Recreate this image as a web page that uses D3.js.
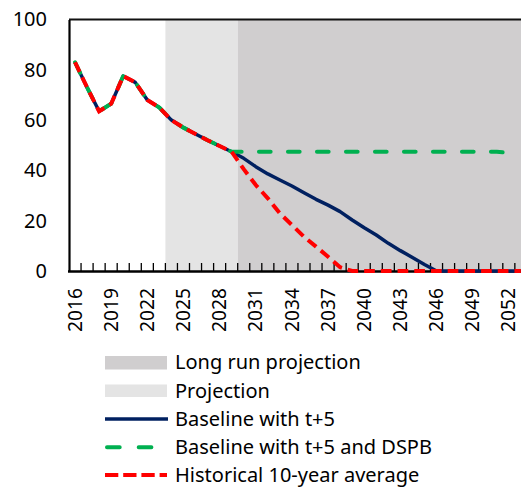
<!DOCTYPE html>
<html><head><meta charset="utf-8">
<script src="https://cdn.jsdelivr.net/npm/d3@7"></script>
<style>
html,body{margin:0;padding:0;background:#fff;}
svg{display:block;}
text{font-family:"Noto Sans","Open Sans",sans-serif;fill:#000;}
</style></head>
<body><svg id="c" width="521" height="487"></svg>
<script>
const years = d3.range(2016, 2054);
const baseline = [83, 73, 63.5, 66.5, 77.5, 75, 68, 65, 60, 57, 54.5, 52, 49.7, 47.4,
  44.8, 41.5, 38.6, 36.2, 33.8, 31.1, 28.5, 26.2, 23.6, 20.3, 17.2, 14.3, 11, 8.1, 5.4, 2.6,
  0, 0, 0, 0, 0, 0, 0, 0];
const dspb = [83, 73, 63.5, 66.5, 77.5, 75, 68, 65, 60, 57, 54.5, 52, 49.7, 47.4,
  47.4, 47.4, 47.4, 47.4, 47.4, 47.4, 47.4, 47.4, 47.4, 47.4, 47.4, 47.4, 47.4, 47.4, 47.4, 47.4,
  47.4, 47.4, 47.4, 47.4, 47.4, 47.4, 47.0, null];
const hist10 = [83, 73, 63.5, 66.5, 77.5, 75, 68, 65, 60, 57, 54.5, 52, 49.7, 47.4,
  40.5, 34.2, 28.9, 22.9, 18.3, 13.6, 9.7, 5.7, 1.5, 0, 0, 0, 0, 0, 0, 0,
  0, 0, 0, 0, 0, 0, 0, 0];
const projectionYears = [2024, 2029];
const longRunYears = [2030, 2053];
const yTicks = [0, 20, 40, 60, 80, 100];
const xLabelYears = d3.range(2016, 2053, 3);
const legendLabels = ["Long run projection", "Projection", "Baseline with t+5",
  "Baseline with t+5 and DSPB", "Historical 10-year average"];

const svg = d3.select("#c");
const bw = 12.05;
const x = d3.scaleBand().domain(years).range([69, 69 + years.length * bw]).padding(0);
const y = d3.scaleLinear().domain([0, 100]).range([271, 19.5]);
const cx = d => x(d) + x.bandwidth() / 2;

// shading
svg.append("rect").attr("x", x(projectionYears[0])).attr("y", y(100))
  .attr("width", x(projectionYears[1]) + bw - x(projectionYears[0]))
  .attr("height", y(0) - y(100)).attr("fill", "#e4e4e4");
svg.append("rect").attr("x", x(longRunYears[0])).attr("y", y(100))
  .attr("width", x(longRunYears[1]) + bw - x(longRunYears[0]))
  .attr("height", y(0) - y(100)).attr("fill", "#d0cecf");

// top border
svg.append("line").attr("x1", 69).attr("x2", 521).attr("y1", y(100)).attr("y2", y(100))
  .attr("stroke", "#111").attr("stroke-width", 2);

// y axis
const ya = svg.append("g").attr("transform", "translate(69,0)")
  .call(d3.axisLeft(y).tickValues(yTicks).tickSize(0).tickPadding(22));
ya.select(".domain").attr("stroke", "#000").attr("stroke-width", 2.2);
ya.selectAll("text").attr("font-size", "20px").attr("font-family", "Noto Sans").attr("fill", "#000");

// x axis line + ticks at band boundaries
const xa = svg.append("g");
xa.selectAll("line.t").data(years.slice(1)).join("line").attr("class", "t")
  .attr("x1", d => x(d)).attr("x2", d => x(d)).attr("y1", y(0) - 8).attr("y2", y(0))
  .attr("stroke", "#000").attr("stroke-width", 1.3);
xa.append("line").attr("x1", 68).attr("x2", 521).attr("y1", y(0) + 0.5).attr("y2", y(0) + 0.5)
  .attr("stroke", "#000").attr("stroke-width", 2.4);
xa.selectAll("text").data(xLabelYears).join("text")
  .attr("transform", d => `translate(${cx(d) + 0.3},${288}) rotate(-90)`)
  .attr("text-anchor", "end").attr("dy", "0.33em")
  .attr("font-size", "19.2px").text(d => d);

// lines
const line = d3.line().defined(d => d[1] != null).x(d => cx(d[0])).y(d => y(d[1]));
const mk = arr => years.map((yr, i) => [yr, arr[i]]);
svg.append("path").datum(mk(baseline)).attr("d", line).attr("fill", "none")
  .attr("stroke", "#002060").attr("stroke-width", 3.5).attr("stroke-linejoin", "round");
svg.append("path").datum(mk(dspb)).attr("d", line).attr("fill", "none")
  .attr("stroke", "#00b050").attr("stroke-width", 4).attr("stroke-linecap", "round")
  .attr("stroke-dasharray", "11.7,17.3");
svg.append("path").datum(mk(hist10)).attr("d", line).attr("fill", "none")
  .attr("stroke", "#ff0000").attr("stroke-width", 4).attr("stroke-dasharray", "10.7,6");

// legend
const lx = 105, lw = 62, tx = 175;
const rows = [369.3, 397.6, 426, 454.2, 482.4];
svg.append("rect").attr("x", lx).attr("y", 356).attr("width", lw).attr("height", 13.5).attr("fill", "#d0cecf");
svg.append("rect").attr("x", lx).attr("y", 384.5).attr("width", lw).attr("height", 12.5).attr("fill", "#e4e4e4");
svg.append("line").attr("x1", lx).attr("x2", lx + 63).attr("y1", 419).attr("y2", 419)
  .attr("stroke", "#002060").attr("stroke-width", 3.5);
svg.append("line").attr("x1", lx + 2).attr("x2", lx + 63).attr("y1", 447.3).attr("y2", 447.3)
  .attr("stroke", "#00b050").attr("stroke-width", 4).attr("stroke-linecap", "round")
  .attr("stroke-dasharray", "12.7,19");
svg.append("line").attr("x1", lx).attr("x2", lx + 62).attr("y1", 475).attr("y2", 475)
  .attr("stroke", "#ff0000").attr("stroke-width", 4).attr("stroke-dasharray", "13.3,4.9");
svg.selectAll("text.lg").data(legendLabels).join("text").attr("class", "lg")
  .attr("x", tx).attr("y", (d, i) => rows[i]).attr("font-size", "20px").text(d => d);
</script></body></html>
